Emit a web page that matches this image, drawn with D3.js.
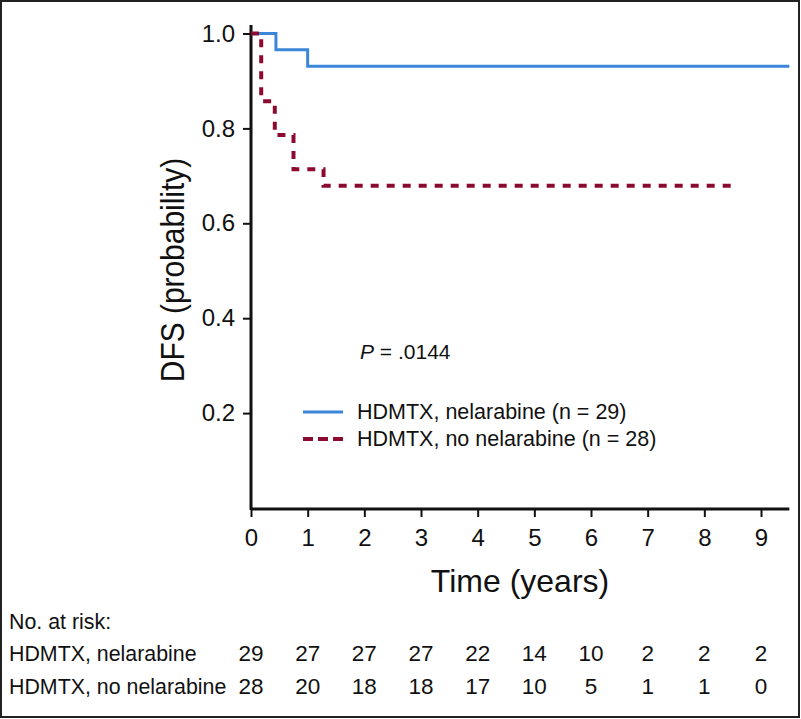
<!DOCTYPE html>
<html><head><meta charset="utf-8">
<script src="https://cdn.jsdelivr.net/npm/d3@7/dist/d3.min.js"></script>
<style>body{margin:0;background:#fff}svg{display:block}text{font-family:"Liberation Sans",Arial,sans-serif;fill:#111}</style>
</head><body><svg id="c" width="801" height="719"></svg>
<script>
const xTicks = [0,1,2,3,4,5,6,7,8,9];
const yTicks = [0.2,0.4,0.6,0.8,1.0];
const seriesNames = ["HDMTX, nelarabine (n = 29)", "HDMTX, no nelarabine (n = 28)"];
const riskLabels = ["HDMTX, nelarabine", "HDMTX, no nelarabine"];
// step curves: [time, survival]
const nelTimes = [0, 0.44, 1.0, 9.5];
const nelSurv  = [1.0, 0.9655, 0.931, 0.931];
const noNelTimes = [0, 0.18, 0.42, 0.75, 1.28, 8.5];
const noNelSurv  = [1.0, 0.857, 0.786, 0.714, 0.679, 0.679];
const riskNel   = [29,27,27,27,22,14,10,2,2,2];
const riskNoNel = [28,20,18,18,17,10,5,1,1,0];
const pText = ".0144";

const svg = d3.select("#c");
const x = d3.scaleLinear().domain([0,9]).range([251,761]);
const y = d3.scaleLinear().domain([0,1]).range([508,33.5]);
const colors = ["#3b86d8","#8c0a30"];

svg.append("rect").attr("x",1).attr("y",1).attr("width",798).attr("height",716)
  .attr("fill","none").attr("stroke","#222").attr("stroke-width",2);

const xAxis = d3.axisBottom(x).tickValues(xTicks).tickFormat(d3.format("d")).tickSize(8).tickPadding(12);
const gx = svg.append("g").attr("transform","translate(0,509)").call(xAxis);
gx.attr("font-size",null).attr("font-family",null);
gx.select(".domain").attr("d", `M${x(0)},0H${x(9.5)}`).attr("stroke","#111").attr("stroke-width",3);
gx.selectAll(".tick line").attr("stroke","#111").attr("stroke-width",2);
gx.selectAll("text").style("font-size","24px").attr("fill","#111");

const yAxis = d3.axisLeft(y).tickValues(yTicks).tickFormat(d3.format(".1f")).tickSize(8).tickPadding(8);
const gy = svg.append("g").attr("transform","translate(251,0)").call(yAxis);
gy.attr("font-size",null).attr("font-family",null);
gy.select(".domain").attr("d", `M0,25V510`).attr("stroke","#111").attr("stroke-width",3);
gy.selectAll(".tick line").attr("stroke","#111").attr("stroke-width",2);
gy.selectAll("text").style("font-size","24px").attr("fill","#111");

svg.append("text").attr("transform","translate(184,270) rotate(-90) scale(0.88,1)").attr("text-anchor","middle")
  .style("font-size","34px").text("DFS (probability)");
svg.append("text").attr("transform","translate(520,592)").attr("text-anchor","middle")
  .style("font-size","32px").text("Time (years)");

const line = d3.line().x(d=>x(d[0])).y(d=>y(d[1])).curve(d3.curveStepAfter);
const nel = nelTimes.map((t,i)=>[t,nelSurv[i]]);
const noNel = noNelTimes.map((t,i)=>[t,noNelSurv[i]]);
svg.append("path").datum(nel).attr("d",line).attr("fill","none").attr("stroke",colors[0]).attr("stroke-width",3);
svg.append("path").datum(noNel).attr("d",line).attr("fill","none").attr("stroke",colors[1]).attr("stroke-width",4).attr("stroke-dasharray","8,8");

const pt = svg.append("text").attr("x",360).attr("y",359).style("font-size","21px");
pt.append("tspan").attr("font-style","italic").text("P");
pt.append("tspan").text(" = " + pText);

const lg = svg.append("g");
seriesNames.forEach((s,i)=>{
  const yy = 412 + i*27;
  lg.append("line").attr("x1",303).attr("x2",343).attr("y1",yy).attr("y2",yy)
    .attr("stroke",colors[i]).attr("stroke-width", i===0?3:4).attr("stroke-dasharray", i===0?null:"10,5");
  lg.append("text").attr("x",357).attr("y",yy+7).style("font-size","21.5px").text(s);
});

const fs = "22.5px";
svg.append("text").attr("transform","translate(9,629) scale(0.95,1)").style("font-size",fs).text("No. at risk:");
[riskNel, riskNoNel].forEach((row,i)=>{
  const yy = 661 + i*33;
  svg.append("text").attr("transform",`translate(9,${yy}) scale(0.95,1)`).style("font-size",fs).text(riskLabels[i]);
  svg.selectAll(null).data(row).enter().append("text")
    .attr("x",(d,j)=>x(xTicks[j])).attr("y",yy).attr("text-anchor","middle")
    .style("font-size",fs).text(d=>d);
});
</script></body></html>
